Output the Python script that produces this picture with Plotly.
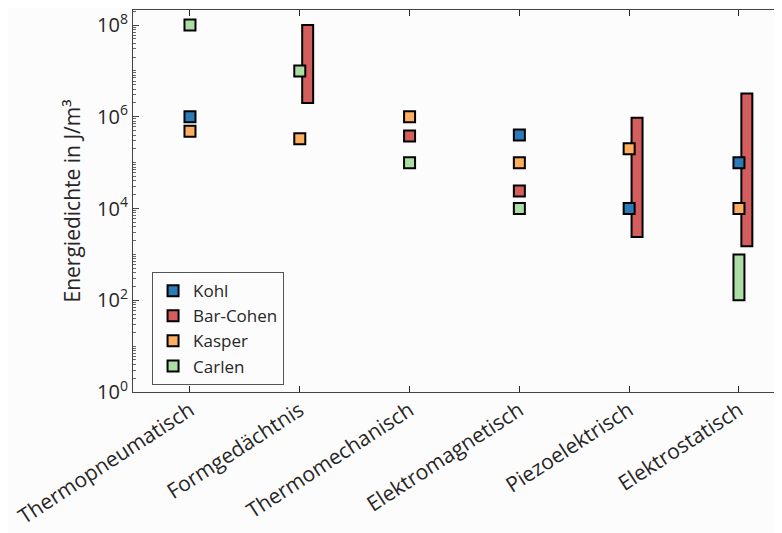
import plotly.graph_objects as go

categories = ["Thermopneumatisch", "Formgedächtnis", "Thermomechanisch",
              "Elektromagnetisch", "Piezoelektrisch", "Elektrostatisch"]

kohl = [1e6, None, None, 4e5, 1e4, 1e5]
kasper = [4.8e5, 3.3e5, 1e6, 1e5, 2e5, 1e4]
barcohen_points = [None, None, 3.8e5, 2.4e4, None, None]
barcohen_low = [None, 2e6, None, None, 2.4e3, 1.5e3]
barcohen_high = [None, 1e8, None, None, 9.5e5, 3.2e6]
carlen_points = [1e8, 1e7, 1e5, 1e4, None, None]
carlen_low = [None, None, None, None, None, 1e2]
carlen_high = [None, None, None, None, None, 1e3]

ytick_vals = [1, 1e2, 1e4, 1e6, 1e8]
ytick_text = ["10<sup>0</sup>", "10<sup>2</sup>", "10<sup>4</sup>", "10<sup>6</sup>", "10<sup>8</sup>"]

c_kohl = "#2b7bb9"
c_bar = "#d45d5d"
c_kasper = "#fdae61"
c_carlen = "#abdda4"

FONT = "Open Sans"
xpos = list(range(len(categories)))

fig = go.Figure()

def bar_trace(low, high, color, offset, name):
    xs, bases, lens = [], [], []
    for i, (lo, hi) in enumerate(zip(low, high)):
        if lo is not None and hi is not None:
            xs.append(xpos[i]); bases.append(lo); lens.append(hi - lo)
    return go.Bar(x=xs, y=lens, base=bases, width=0.1, offset=offset,
                  marker=dict(color=color, line=dict(color="black", width=2)),
                  showlegend=False, name=name, hoverinfo="skip")

fig.add_trace(bar_trace(barcohen_low, barcohen_high, c_bar, 0.022, "Bar-Cohen"))
fig.add_trace(bar_trace(carlen_low, carlen_high, c_carlen, -0.05, "Carlen"))

def pts(vals, color, name):
    xs = [xpos[i] for i, v in enumerate(vals) if v is not None]
    ys = [v for v in vals if v is not None]
    return go.Scatter(x=xs, y=ys, mode="markers", name=name,
                      marker=dict(symbol="square", size=11, color=color,
                                  line=dict(color="black", width=2)))

fig.add_trace(pts(kohl, c_kohl, "Kohl"))
fig.add_trace(pts(barcohen_points, c_bar, "Bar-Cohen"))
fig.add_trace(pts(kasper, c_kasper, "Kasper"))
fig.add_trace(pts(carlen_points, c_carlen, "Carlen"))

minor_vals = []
for k in range(0, 9):
    for m in range(2, 10):
        minor_vals.append(m * 10 ** k)
    if k % 2 == 1:
        minor_vals.append(10 ** k)

fig.update_layout(
    width=782, height=533,
    margin=dict(l=125, r=0, t=2, b=149, autoexpand=False),
    paper_bgcolor="#fdfcfc", plot_bgcolor="#fdfcfc",
    font=dict(family=FONT, color="#262626"),
    barmode="overlay",
    showlegend=True,
    legend=dict(x=0.029, y=0.166, xanchor="left", yanchor="middle",
                bgcolor="#fdfcfc", bordercolor="#555555", borderwidth=1,
                font=dict(size=17, family=FONT, color="#262626"),
                tracegroupgap=0),
    xaxis=dict(
        range=[-0.519, 5.465], tickmode="array", tickvals=xpos, ticktext=categories,
        tickangle=-33, tickfont=dict(size=21, family=FONT, color="#262626"),
        showline=True, linecolor="#444444", linewidth=1, mirror="ticks",
        ticks="inside", ticklen=6, tickcolor="#262626", showgrid=False, zeroline=False,
        automargin=False, ticklabeloverflow="allow", ticklabelstandoff=-3,
    ),
    yaxis=dict(
        type="log", range=[0, 8.327],
        tickmode="array", tickvals=ytick_vals, ticktext=ytick_text,
        tickfont=dict(size=20, family=FONT, color="#262626"),
        showline=True, linecolor="#444444", linewidth=1,
        ticks="inside", ticklen=6, tickcolor="#444444", showgrid=False, zeroline=False,
        minor=dict(tickmode="array", tickvals=minor_vals, ticks="inside", ticklen=3,
                   tickcolor="#666666", showgrid=False),
        title=dict(text="Energiedichte in J/m³", font=dict(size=21, family=FONT, color="#262626"),
                   standoff=10),
        automargin=False, ticklabeloverflow="allow",
    ),
)

fig.write_html("out.html")
